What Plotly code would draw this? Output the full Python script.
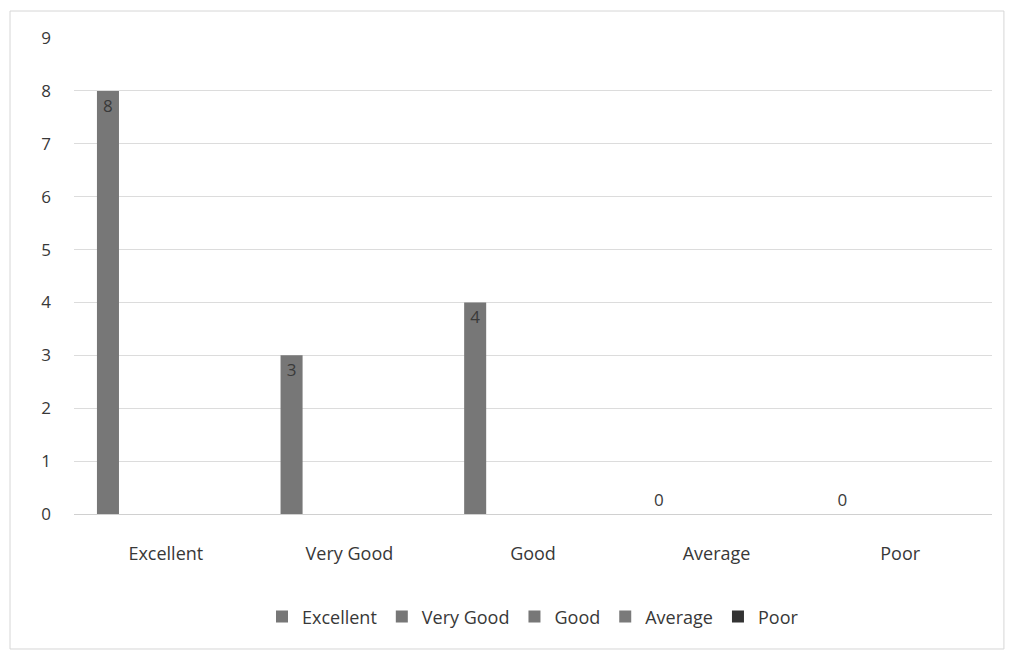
import plotly.graph_objects as go

categories = ["Excellent", "Very Good", "Good", "Average", "Poor"]
values = [8, 3, 4, 0, 0]
bar_colors = ["#767676", "#7c7c7c", "#858585", "#7a7a7a", "#333333"]
y_ticks = [0, 1, 2, 3, 4, 5, 6, 7, 8, 9]

FONT = "'Open Sans', Lato, sans-serif"
TXT = "#383838"

fig = go.Figure()
for cat, val, col in zip(categories, values, bar_colors):
    fig.add_trace(go.Bar(
        x=[cat], y=[val], name=cat,
        marker=dict(color="#777777" if val > 0 else col, line=dict(width=0)),
        offset=-0.375, width=0.12,
        text=[str(val)],
        textposition="inside" if val > 0 else "outside",
        insidetextanchor="end",
        textfont=dict(size=17, color="#3a3a3a", family=FONT),
        cliponaxis=False,
        showlegend=True,
    ))

fig.update_layout(
    width=1011, height=652,
    margin=dict(l=74, r=19, t=38, b=138),
    paper_bgcolor="white", plot_bgcolor="white",
    barmode="overlay",
    font=dict(family=FONT, size=17, color=TXT),
    legend=dict(orientation="h", x=0.5, xanchor="center", y=-0.216, yanchor="middle",
                font=dict(size=18, color=TXT), itemwidth=30, traceorder="normal"),
    xaxis=dict(categoryorder="array", categoryarray=categories, range=[-0.5, 4.5],
               showgrid=False, showline=True, linecolor="#d0d0d0", linewidth=1,
               ticks="", ticklabelstandoff=23, tickfont=dict(size=18, color=TXT)),
    yaxis=dict(range=[0, 9], tickvals=y_ticks, showgrid=True, gridcolor="#dcdcdc",
               gridwidth=1, zeroline=False, showline=False, ticks="",
               ticklabelstandoff=22, tickfont=dict(size=17, color=TXT)),
    shapes=[dict(type="rect", xref="paper", yref="paper",
                 x0=-0.0697, x1=1.013, y0=-0.2836, y1=1.0567,
                 line=dict(color="#d6d6d6", width=1), fillcolor="rgba(0,0,0,0)", layer="below")],
)

fig.write_html("out.html", config={"displayModeBar": False},
               post_script="document.body.style.margin='0';document.body.style.overflow='hidden';")
